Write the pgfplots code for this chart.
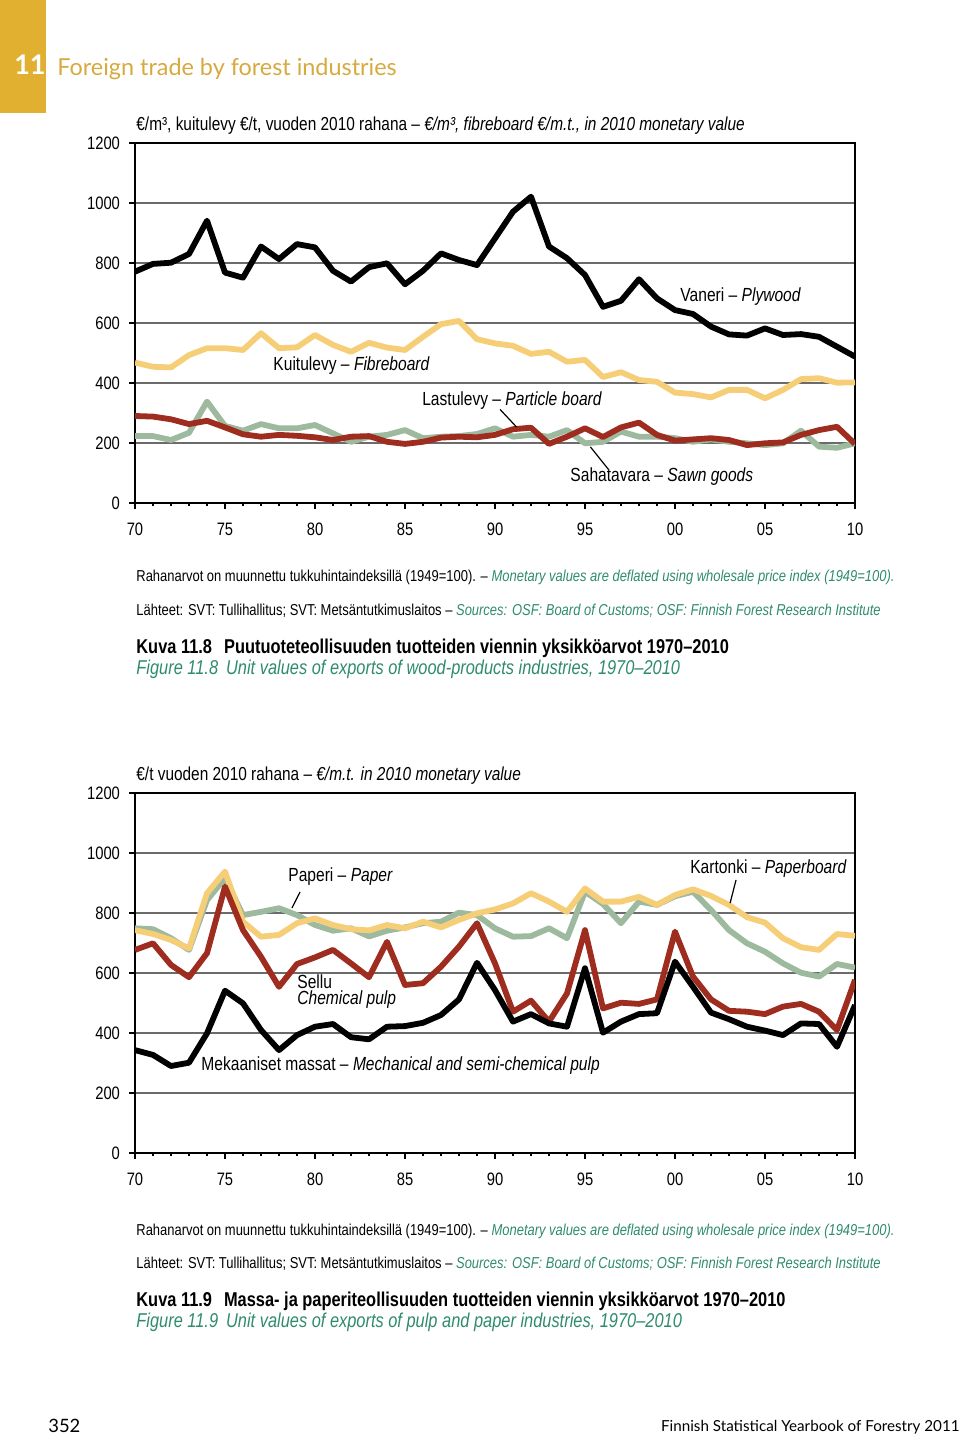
\documentclass[border=0pt]{standalone}
\usepackage{fontspec}
\setmainfont{Liberation Sans}[FakeStretch=0.82]
\newfontfamily\gill{Lato}
\usepackage{pgfplots}
\pgfplotsset{compat=1.18}
\usepackage{pgfplotstable}
\definecolor{gold}{RGB}{225,176,48}
\definecolor{goldtxt}{RGB}{214,170,62}
\definecolor{engreen}{RGB}{46,140,106}
\definecolor{cyellow}{RGB}{247,206,120}
\definecolor{cred}{RGB}{158,45,32}
\definecolor{cgreen}{RGB}{157,185,158}
\tikzset{lbl/.style={font=\fontsize{9.5}{10}\selectfont, anchor=west, inner sep=0pt}}

\pgfplotstableread{
year plywood fibre particle sawn
1970 771 468 290 223
1971 797 454 288 223
1972 801 452 279 210
1973 830 493 263 234
1974 941 516 274 338
1975 768 516 252 257
1976 751 510 229 241
1977 855 566 221 263
1978 813 516 227 249
1979 863 519 224 249
1980 852 560 219 260
1981 774 527 210 232
1982 738 504 221 204
1983 786 534 223 221
1984 799 518 204 227
1985 729 510 197 243
1986 774 554 204 216
1987 832 596 218 221
1988 810 607 221 223
1989 793 546 219 230
1990 882 532 227 249
1991 971 524 246 221
1992 1021 497 251 227
1993 855 504 197 221
1994 816 471 221 243
1995 760 477 249 199
1996 654 420 220 204
1997 674 436 252 238
1998 746 410 268 221
1999 682 404 227 221
2000 643 368 208 216
2001 630 363 212 204
2002 588 352 216 212
2003 562 377 210 204
2004 558 377 193 199
2005 582 349 199 193
2006 560 377 202 199
2007 563 413 227 241
2008 554 416 243 188
2009 521 401 254 184
2010 488 402 197 199
}\wood

\pgfplotstableread{
year mech chem board paper
1970 343 677 743 749
1971 327 699 730 746
1972 290 627 710 716
1973 301 586 682 677
1974 399 666 866 843
1975 541 888 938 916
1976 499 743 771 793
1977 410 654 721 804
1978 343 554 727 816
1979 393 630 766 793
1980 421 652 782 760
1981 430 677 760 741
1982 386 632 746 749
1983 379 586 742 722
1984 421 704 760 741
1985 423 560 749 752
1986 434 566 771 766
1987 460 621 752 771
1988 512 688 777 801
1989 634 766 799 793
1990 543 632 812 749
1991 438 471 832 721
1992 463 508 866 723
1993 432 438 838 749
1994 421 532 804 716
1995 616 743 882 871
1996 401 482 838 830
1997 438 501 838 766
1998 463 497 854 838
1999 466 512 827 827
2000 638 738 860 856
2001 554 588 879 871
2002 468 512 857 810
2003 446 474 827 743
2004 421 471 786 699
2005 408 463 768 671
2006 393 488 716 632
2007 432 497 686 601
2008 430 471 677 588
2009 354 410 730 630
2010 493 577 724 618
}\pulp

\pgfplotsset{
  pageaxis/.style={
    scale only axis, width=360pt, height=180pt,
    xmin=1970, xmax=2010, ymin=0, ymax=1200,
    xtick={1970,1975,...,2010},
    xticklabels={70,75,80,85,90,95,00,05,10},
    minor x tick num=4,
    ytick={0,200,...,1200},
    ymajorgrids,
    grid style={draw=black!58, line width=0.7pt},
    axis line style={line width=1.1pt},
    tick style={black, line width=0.8pt},
    xtick pos=bottom, ytick pos=left,
    tick align=outside,
    major tick length=3pt, minor tick length=1.6pt,
    tick label style={font=\fontsize{9}{10}\selectfont},
    xticklabel style={yshift=-3.5pt},
    yticklabel style={xshift=-1pt},
    /pgf/number format/assume math mode=true,
    /pgf/number format/1000 sep={},
    every axis plot/.append style={line width=2.9pt, line join=round, no marks},
  }
}

\begin{document}
\begin{tikzpicture}
\begin{scope}[x=0.5pt,y=-0.5pt]
\useasboundingbox (0,0) rectangle (960,1438);
\fill[gold] (0,0) rectangle (46,113);
\node[white, font=\gill\fontsize{13.5}{14}\selectfont\bfseries, inner sep=0pt] at (30,65) {11};
\node[goldtxt, font=\gill\fontsize{11.7}{12}\selectfont, anchor=west, inner sep=0pt] at (57,69) {Foreign trade by forest industries};

% top chart texts
\node[font=\fontsize{9.4}{10}\selectfont, anchor=west, inner sep=0pt] at (136,126) {€/m³, kuitulevy €/t, vuoden 2010 rahana – \textit{€/m³, fibreboard €/m.t., in 2010 monetary value}};
\node[font=\fontsize{7.9}{9}\selectfont, anchor=west, inner sep=0pt] at (136,577) {Rahanarvot on muunnettu tukkuhintaindeksillä (1949=100). – \textcolor{engreen}{\textit{Monetary values are deflated using wholesale price index (1949=100).}}};
\node[font=\fontsize{7.9}{9}\selectfont, anchor=west, inner sep=0pt] at (136,611) {Lähteet: SVT: Tullihallitus; SVT: Metsäntutkimuslaitos – \textcolor{engreen}{\textit{Sources: OSF: Board of Customs; OSF: Finnish Forest Research Institute}}};
\node[font=\fontsize{10}{12}\selectfont\bfseries, anchor=west, inner sep=0pt] at (136,648) {Kuva 11.8\hspace{0.6em}Puutuoteteollisuuden tuotteiden viennin yksikköarvot 1970–2010};
\node[font=\fontsize{10}{12}\selectfont\itshape, text=engreen, anchor=west, inner sep=0pt] at (136,669) {Figure 11.8\hspace{0.4em}Unit values of exports of wood-products industries, 1970–2010};

% bottom chart texts
\node[font=\fontsize{9.4}{10}\selectfont, anchor=west, inner sep=0pt] at (136,776) {€/t vuoden 2010 rahana – \textit{€/m.t. in 2010 monetary value}};
\node[font=\fontsize{7.9}{9}\selectfont, anchor=west, inner sep=0pt] at (136,1231) {Rahanarvot on muunnettu tukkuhintaindeksillä (1949=100). – \textcolor{engreen}{\textit{Monetary values are deflated using wholesale price index (1949=100).}}};
\node[font=\fontsize{7.9}{9}\selectfont, anchor=west, inner sep=0pt] at (136,1264) {Lähteet: SVT: Tullihallitus; SVT: Metsäntutkimuslaitos – \textcolor{engreen}{\textit{Sources: OSF: Board of Customs; OSF: Finnish Forest Research Institute}}};
\node[font=\fontsize{10}{12}\selectfont\bfseries, anchor=west, inner sep=0pt] at (136,1301) {Kuva 11.9\hspace{0.6em}Massa- ja paperiteollisuuden tuotteiden viennin yksikköarvot 1970–2010};
\node[font=\fontsize{10}{12}\selectfont\itshape, text=engreen, anchor=west, inner sep=0pt] at (136,1322) {Figure 11.9\hspace{0.4em}Unit values of exports of pulp and paper industries, 1970–2010};

% footer
\node[font=\gill\fontsize{9.2}{12}\selectfont, anchor=west, inner sep=0pt] at (48,1426) {352};
\node[font=\gill\fontsize{7.6}{10}\selectfont, anchor=east, inner sep=0pt] at (960,1427) {Finnish Statistical Yearbook of Forestry 2011};
\end{scope}

\begin{axis}[pageaxis, at={(67.5pt,-251.5pt)}, anchor=south west]
\addplot[cgreen] table[x=year,y=sawn] {\wood};
\addplot[cred] table[x=year,y=particle] {\wood};
\addplot[cyellow] table[x=year,y=fibre] {\wood};
\addplot[black] table[x=year,y=plywood] {\wood};
\node[lbl] at (axis cs:2000.28,687) {Vaneri – \textit{Plywood}};
\node[lbl] at (axis cs:1977.67,457) {Kuitulevy – \textit{Fibreboard}};
\node[lbl] at (axis cs:1985.94,340) {Lastulevy – \textit{Particle board}};
\draw[line width=0.6pt] (axis cs:1990.28,312) -- (axis cs:1991.2,253);
\node[lbl] at (axis cs:1994.17,87) {Sahatavara – \textit{Sawn goods}};
\draw[line width=0.6pt] (axis cs:1996.3,112) -- (axis cs:1995.3,187);
\end{axis}

\begin{axis}[pageaxis, at={(67.5pt,-576.5pt)}, anchor=south west]
\addplot[cgreen] table[x=year,y=paper] {\pulp};
\addplot[cyellow] table[x=year,y=board] {\pulp};
\addplot[cred] table[x=year,y=chem] {\pulp};
\addplot[black] table[x=year,y=mech] {\pulp};
\node[lbl] at (axis cs:1978.5,920) {Paperi – \textit{Paper}};
\draw[line width=0.6pt] (axis cs:1979.17,870) -- (axis cs:1978.72,817);
\node[lbl] at (axis cs:2000.83,947) {Kartonki – \textit{Paperboard}};
\draw[line width=0.6pt] (axis cs:2003.39,910) -- (axis cs:2003.06,833);
\node[lbl] at (axis cs:1979,570) {Sellu};
\node[lbl] at (axis cs:1979,510) {\textit{Chemical pulp}};
\node[lbl] at (axis cs:1973.67,290) {Mekaaniset massat – \textit{Mechanical and semi-chemical pulp}};
\end{axis}
\end{tikzpicture}
\end{document}
